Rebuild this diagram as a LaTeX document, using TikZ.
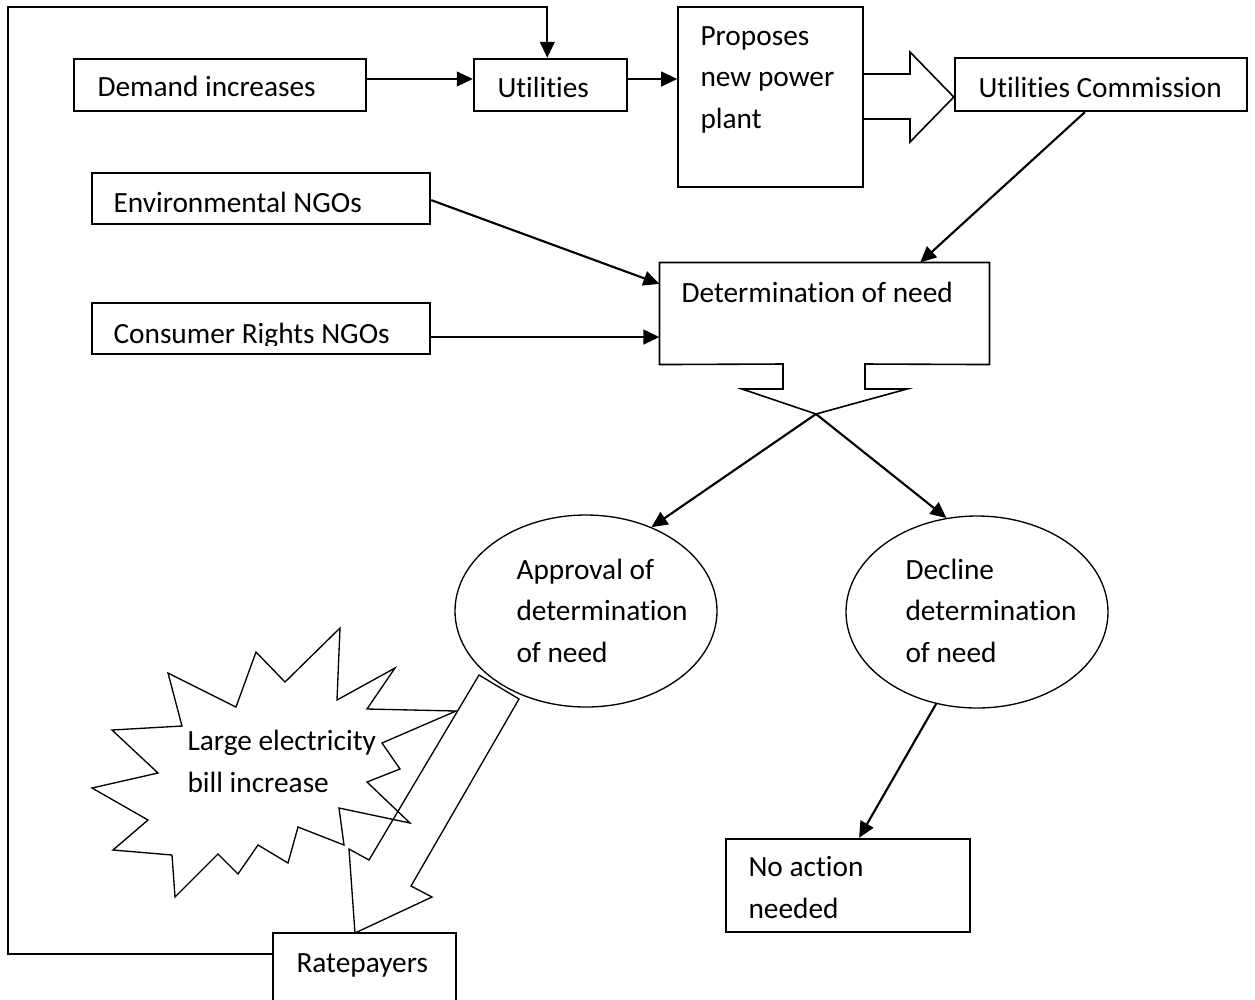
\documentclass[tikz,border=0pt]{standalone}
\usepackage{fontspec}
\setmainfont{Carlito}[Ligatures=NoCommon]
\usepackage{tikz}
\usetikzlibrary{arrows.meta,fit,calc,shapes.geometric}

\begin{document}
\begin{tikzpicture}[x=0.375pt, y=-0.375pt,
    box/.style={draw, line width=0.9pt, inner sep=0pt},
    txt/.style={anchor=base west, align=left, inner sep=0pt, font=\fontsize{11}{15.4}\selectfont},
    conn/.style={line width=0.8pt, -{Triangle[length=6pt,width=5.5pt]}},
    outline/.style={line width=0.6pt, line join=miter},
    oval/.style={draw, ellipse, line width=0.5pt, inner sep=0pt, minimum width=98.25pt, minimum height=72pt}]
        \useasboundingbox (0,0) rectangle (1255,999);
        \clip (0,0) rectangle (1255,999);

        % Top row
        \node[box, fit={(74,59) (366,111)}] (demand) {};
        \node[txt] (demandT) at (97,96) {Demand increases};
        \node[box, fit={(474,59) (627,111)}] (util) {};
        \node[txt] (utilT) at (497,97) {Utilities};
        \node[box, outline, fit={(678,7) (863,187)}] (prop) {};
        \node[txt] (propT) at (700,128) {Proposes\\new power\\plant};
        \node[box, fit={(955,58) (1247,111)}] (comm) {};
        \node[txt] (commT) at (978,97) {Utilities Commission};

        % Block arrow to the commission
        \draw[outline] (prop.east |- 0,74) -- (910,74) -- (910,52) -- (comm.west |- 0,97)
            -- (910,142) -- (910,119) -- (prop.east |- 0,119);

        % NGOs
        \node[box, fit={(92,173) (430,224)}] (env) {};
        \node[txt] (envT) at (113,212) {Environmental NGOs};
        \node[box, fit={(92,303) (430,354)}] (cons) {};
        \begin{scope}
            \clip (92,303) rectangle (430,345);
            \node[txt] (consT) at (113,343) {Consumer Rights NGOs};
        \end{scope}

        % Determination of need with its down arrow
        \node[fit={(660,263) (989,364)}, inner sep=0pt] (det) {};
        \draw[outline] (det.north west) -- (det.north east) -- (det.south east) -- (865,364)
            -- (865,389) -- (907,389) -- (816,414) -- (742,389) -- (783,389) -- (783,364)
            -- (det.south west) -- cycle;
        \coordinate (detTip) at (816,414);
        \node[txt] (detT) at (681,302) {Determination of need};

        % Outcomes
        \node[oval] (approve) at (586,611) {};
        \node[txt] (approveT) at (516,662) {Approval of\\determination\\of need};
        \node[oval] (decline) at (977,612) {};
        \node[txt] (declineT) at (905,662) {Decline\\determination\\of need};
        \node[box, fit={(726,839) (970,932)}] (noact) {};
        \node[txt] (noactT) at (748,918) {No action\\needed};
        \node[box, fit={(273,933) (456,1010)}] (rate) {};
        \node[txt] (rateT) at (296,972) {Ratepayers};

        % Bill increase
        \draw[line width=0.5pt, line join=miter] (340,628) -- (337,700) -- (395,668) -- (367,709)
            -- (456,711) -- (382,743) -- (400,769) -- (367,782) -- (410,823) -- (339,808)
            -- (344,845) -- (298,827) -- (288,863) -- (258,845) -- (238,874) -- (218,854)
            -- (175,897) -- (172,855) -- (113,850) -- (148,820) -- (92,788) -- (158,773)
            -- (112,730) -- (182,726) -- (168,673) -- (236,707) -- (256,652) -- (285,682) -- cycle;
        \node[txt] (billT) at (187,792) {Large electricity\\bill increase};

        % Block arrow to the ratepayers
        \draw[line width=0.5pt, line join=miter] (479,675) -- (519,699) -- (411,886) -- (432,897)
            -- (355,933) -- (349,849) -- (369,860) -- cycle;

        % Connectors
        \coordinate (loopB) at (8,954);
        \coordinate (loopT) at (8,7);
        \draw[conn] ([yshift=2.25pt]demand.east) -- ([yshift=2.25pt]demand.east -| util.west);
        \draw[conn] ([yshift=2.25pt]util.east) -- ([yshift=2.25pt]util.east -| prop.west);
        \draw[conn] (rate.west |- loopB) -- (loopB) -- (loopT) -| ([xshift=-1.2pt]util.north);
        \draw[conn] ([yshift=-0.6pt]env.east) -- ($(det.north west)!0.21!(det.south west)$);
        \draw[conn] ([yshift=-3.2pt]cons.east) -- ([yshift=-3.2pt]cons.east -| det.west);
        \draw[conn] ($(comm.south west)!0.445!(comm.south east)$) -- ($(det.north west)!0.79!(det.north east)$);
        \draw[conn] (detTip) -- (approve.52);
        \draw[conn] (detTip) -- (decline.108);
        \draw[conn] (decline.-114) -- ($(noact.north west)!0.545!(noact.north east)$);
\end{tikzpicture}
\end{document}
